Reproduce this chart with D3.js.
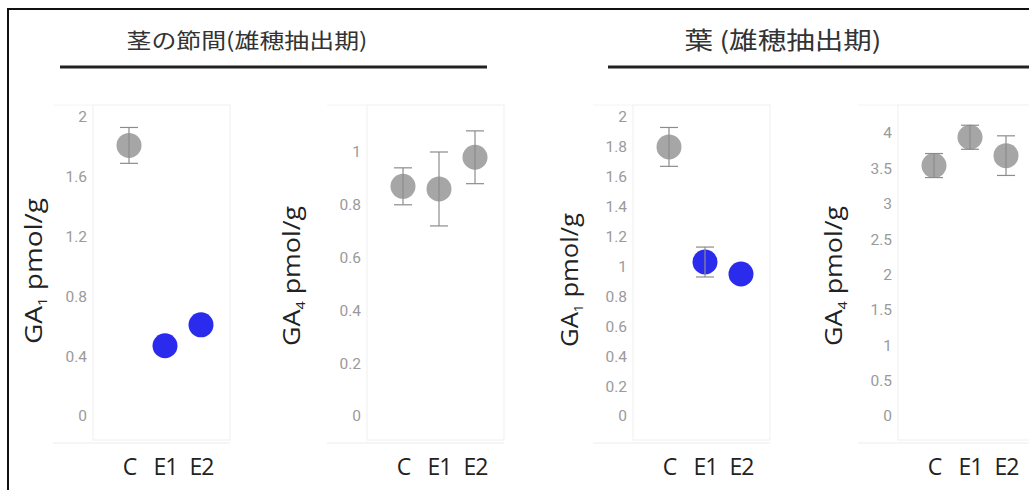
<!DOCTYPE html>
<html>
<head>
<meta charset="utf-8">
<script src="https://cdn.jsdelivr.net/npm/d3@7"></script>
<style>
  html, body { margin: 0; padding: 0; background: #fff; }
  svg { display: block; }
  .tick-label { font-family: Roboto, "Noto Sans", sans-serif; fill: #9a9a9a; }
</style>
</head>
<body>
<svg id="chart" width="1029" height="490"></svg>
<script>
// Categories on each x axis
const categories = ["C", "E1", "E2"];

// Stem internode (tasselling stage)
const stemGA1 = [1.81, 0.47, 0.61];
const stemGA1Err = [0.12, 0, 0];
const stemGA4 = [0.87, 0.86, 0.98];
const stemGA4Err = [0.07, 0.14, 0.10];

// Leaf (tasselling stage)
const leafGA1 = [1.80, 1.03, 0.95];
const leafGA1Err = [0.13, 0.10, 0];
const leafGA4 = [3.54, 3.94, 3.68];
const leafGA4Err = [0.17, 0.17, 0.28];

// Point colour class per category
const ga1Kinds = ["gray", "blue", "blue"];
const ga4Kinds = ["gray", "gray", "gray"];

// Tick values per panel
const stemGA1Ticks = [0, 0.4, 0.8, 1.2, 1.6, 2];
const stemGA4Ticks = [0, 0.2, 0.4, 0.6, 0.8, 1];
const leafGA1Ticks = [0, 0.2, 0.4, 0.6, 0.8, 1, 1.2, 1.4, 1.6, 1.8, 2];
const leafGA4Ticks = [0, 0.5, 1, 1.5, 2, 2.5, 3, 3.5, 4];

// Group titles
const groupTitles = ["茎の節間(雄穂抽出期)", "葉 (雄穂抽出期)"];

const colors = { gray: "#a6a6a6", blue: "#2b2bee" };

const svg = d3.select("#chart");

// Outer frame
svg.append("rect")
  .attr("x", 8).attr("y", 9)
  .attr("width", 1100).attr("height", 600)
  .attr("fill", "none").attr("stroke", "#111").attr("stroke-width", 2);

// Group headings with underline
const headings = [
  { title: groupTitles[0], cx: 247, size: 21, base: 48, width: 241, x1: 60, x2: 487 },
  { title: groupTitles[1], cx: 783, size: 24, base: 49, width: 197, x1: 608, x2: 1040 }
];
headings.forEach(h => {
  svg.append("text")
    .attr("x", h.cx).attr("y", h.base)
    .attr("text-anchor", "middle")
    .attr("font-family", "'Noto Sans CJK JP', sans-serif")
    .attr("font-size", h.size)
    .attr("fill", "#333")
    .attr("textLength", h.width)
    .attr("lengthAdjust", "spacingAndGlyphs")
    .text(h.title);
  svg.append("line")
    .attr("x1", h.x1).attr("x2", h.x2)
    .attr("y1", 67).attr("y2", 67)
    .attr("stroke", "#222").attr("stroke-width", 3);
});

const panels = [
  { left: 93,  values: stemGA1, errs: stemGA1Err, kinds: ga1Kinds, ticks: stemGA1Ticks, max: 2, yMax: 117, sub: "1", labelDx: -51, labelY: 271, labelLen: 146 },
  { left: 367, values: stemGA4, errs: stemGA4Err, kinds: ga4Kinds, ticks: stemGA4Ticks, max: 1, yMax: 152, sub: "4", labelDx: -67, labelY: 276, labelLen: 140 },
  { left: 633, values: leafGA1, errs: leafGA1Err, kinds: ga1Kinds, ticks: leafGA1Ticks, max: 2, yMax: 117, sub: "1", labelDx: -55, labelY: 280, labelLen: 134 },
  { left: 898, values: leafGA4, errs: leafGA4Err, kinds: ga4Kinds, ticks: leafGA4Ticks, max: 4, yMax: 133, sub: "4", labelDx: -56, labelY: 276, labelLen: 140 }
];

const plotTop = 105, plotBottom = 440, plotW = 137, zeroY = 416;

panels.forEach(p => {
  const g = svg.append("g");
  const x = d3.scalePoint().domain(categories).range([p.left + 36, p.left + 108]);
  const y = d3.scaleLinear().domain([0, p.max]).range([zeroY, p.yMax]);

  // faint plot frame and tick-label strip
  g.append("rect")
    .attr("x", p.left).attr("y", plotTop)
    .attr("width", plotW).attr("height", plotBottom - plotTop)
    .attr("fill", "none").attr("stroke", "#efefef").attr("stroke-width", 1);
  g.append("line")
    .attr("x1", p.left - 40).attr("x2", p.left)
    .attr("y1", plotTop).attr("y2", plotTop)
    .attr("stroke", "#f4f4f4");
  g.append("line")
    .attr("x1", p.left - 40).attr("x2", p.left + plotW)
    .attr("y1", plotBottom + 3).attr("y2", plotBottom + 3)
    .attr("stroke", "#ececec");

  // y axis (labels only)
  const yAxis = d3.axisLeft(y).tickValues(p.ticks).tickSize(0).tickPadding(6)
    .tickFormat(d3.format("~g"));
  const ag = g.append("g").attr("transform", `translate(${p.left},0)`).call(yAxis);
  ag.select(".domain").remove();
  ag.selectAll("text").attr("class", "tick-label").attr("font-size", 15.5)
    .attr("fill", "#9a9a9a");

  // x axis (category labels)
  const xAxis = d3.axisBottom(x).tickSize(0).tickPadding(0);
  const xg = g.append("g").attr("transform", `translate(0,475)`).call(xAxis);
  xg.select(".domain").remove();
  xg.selectAll("text")
    .attr("y", 0).attr("dy", 0)
    .attr("font-family", "'Open Sans', 'Noto Sans', sans-serif")
    .attr("font-size", 23)
    .attr("letter-spacing", -1)
    .attr("fill", "#222");

  // y axis title
  const t = g.append("text")
    .attr("transform", `translate(${p.left + p.labelDx},${p.labelY}) rotate(-90)`)
    .attr("text-anchor", "middle")
    .attr("font-family", "'Open Sans', 'Noto Sans', sans-serif")
    .attr("font-size", 24)
    .attr("fill", "#222")
    .attr("textLength", p.labelLen)
    .attr("lengthAdjust", "spacingAndGlyphs");
  t.append("tspan").text("GA");
  t.append("tspan").attr("font-size", 13).attr("dy", 5).text(p.sub);
  t.append("tspan").attr("dy", -5).text(" pmol/g");

  const rows = categories.map((c, i) => ({ c, v: p.values[i], e: p.errs[i], k: p.kinds[i] }));

  // points
  g.selectAll("circle.pt").data(rows).join("circle")
    .attr("class", "pt")
    .attr("cx", d => x(d.c)).attr("cy", d => y(d.v))
    .attr("r", 12.5)
    .attr("fill", d => colors[d.k]);

  // error bars drawn over the points
  const eb = rows.filter(d => d.e > 0);
  const ebG = g.selectAll("g.eb").data(eb).join("g").attr("class", "eb")
    .attr("stroke", "#8c8c8c").attr("stroke-width", 1.2);
  ebG.append("line")
    .attr("x1", d => x(d.c)).attr("x2", d => x(d.c))
    .attr("y1", d => y(d.v + d.e)).attr("y2", d => y(d.v - d.e));
  ebG.append("line")
    .attr("x1", d => x(d.c) - 9).attr("x2", d => x(d.c) + 9)
    .attr("y1", d => y(d.v + d.e)).attr("y2", d => y(d.v + d.e));
  ebG.append("line")
    .attr("x1", d => x(d.c) - 9).attr("x2", d => x(d.c) + 9)
    .attr("y1", d => y(d.v - d.e)).attr("y2", d => y(d.v - d.e));
});
</script>
</body>
</html>
